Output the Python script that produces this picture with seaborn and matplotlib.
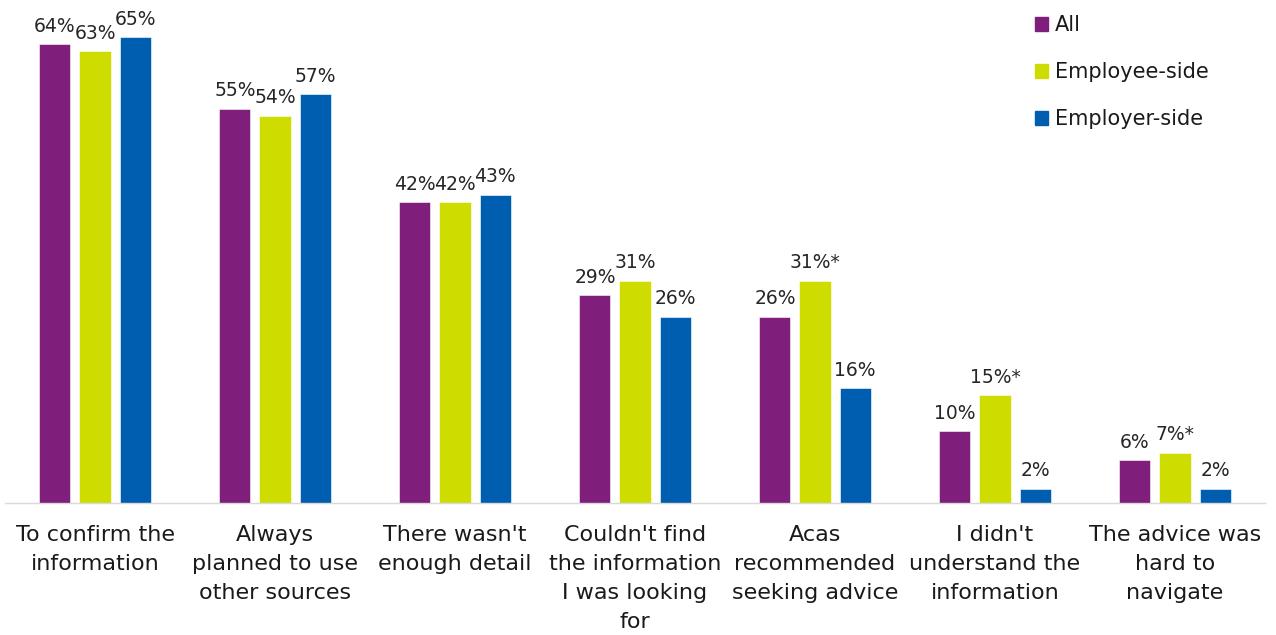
import matplotlib
matplotlib.use("Agg")
import matplotlib.pyplot as plt
import seaborn as sns
import pandas as pd

# Reasons for seeking further advice, by respondent group (% of respondents)
categories = [
    "To confirm the\ninformation",
    "Always\nplanned to use\nother sources",
    "There wasn't\nenough detail",
    "Couldn't find\nthe information\nI was looking\nfor",
    "Acas\nrecommended\nseeking advice",
    "I didn't\nunderstand the\ninformation",
    "The advice was\nhard to\nnavigate",
]
groups = ["All", "Employee-side", "Employer-side"]
all_vals = [64, 55, 42, 29, 26, 10, 6]
employee_vals = [63, 54, 42, 31, 31, 15, 7]
employer_vals = [65, 57, 43, 26, 16, 2, 2]
# significance markers shown after the value
employee_marks = ["", "", "", "", "*", "*", "*"]

colors = ["#801E7C", "#CEDC00", "#005EB0"]

rows = []
for g, vals in zip(groups, [all_vals, employee_vals, employer_vals]):
    for c, v in zip(categories, vals):
        rows.append({"category": c, "group": g, "value": v})
df = pd.DataFrame(rows)

sns.set_theme(style="white")
plt.rcParams["font.family"] = ["DejaVu Sans"]

fig = plt.figure(figsize=(12.76, 6.35), dpi=100)
ax = fig.add_axes([5 / 1276, 132 / 635, 1260 / 1276, 503 / 635])

sns.barplot(
    data=df, x="category", y="value", hue="group",
    hue_order=groups, order=categories, palette=colors, saturation=1,
    width=0.667, gap=0.225, ax=ax, legend=False,
    edgecolor="white", linewidth=0.4,
)

ax.set_ylim(0, 70.15)
ax.set_xlim(-0.5, len(categories) - 0.5)
ax.set_xlabel("")
ax.set_ylabel("")
ax.set_yticks([])
ax.tick_params(axis="x", length=0, pad=16, labelsize=16, colors="#1a1a1a")
for lbl in ax.get_xticklabels():
    lbl.set_linespacing(1.55)

for side in ["top", "left", "right"]:
    ax.spines[side].set_visible(False)
ax.spines["bottom"].set_color("#d9d9d9")
ax.spines["bottom"].set_linewidth(1.0)

# value labels above each bar
label_sets = [
    [f"{v}%" for v in all_vals],
    [f"{v}%{m}" for v, m in zip(employee_vals, employee_marks)],
    [f"{v}%" for v in employer_vals],
]
for cont, labels in zip(ax.containers, label_sets):
    ax.bar_label(cont, labels=labels, padding=6, fontsize=13.5, color="#262626")

# legend
handles = [plt.Rectangle((0, 0), 1, 1, color=c) for c in colors]
fig.legend(
    handles, groups, loc="upper left",
    bbox_to_anchor=(1029 / 1276, 1 - 9 / 635),
    frameon=False, fontsize=15, handlelength=0.6, handleheight=0.6,
    handletextpad=0.35, labelspacing=1.3, borderaxespad=0, borderpad=0.3,
    labelcolor="#1a1a1a",
)

fig.savefig("out.png", dpi=100, facecolor="white")
